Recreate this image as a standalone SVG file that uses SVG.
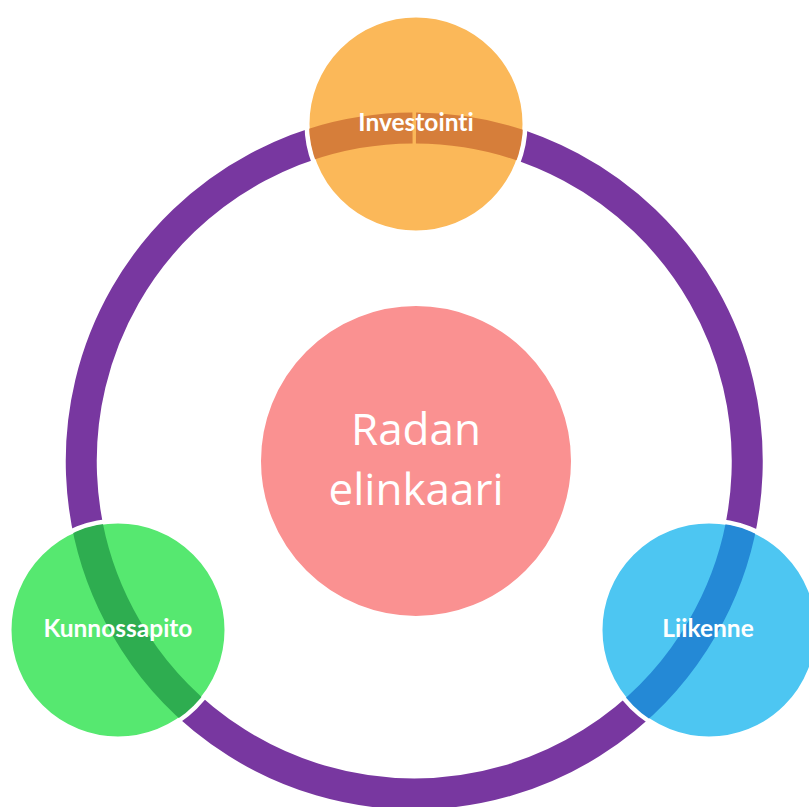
<svg xmlns="http://www.w3.org/2000/svg" width="809" height="807" viewBox="0 0 809 807">
  <style>
    .ring { fill: none; stroke-width: 31; }
    .node { stroke: #ffffff; stroke-width: 5; }
    .lbl { font-family: Lato, "Open Sans", "Liberation Sans", sans-serif; font-weight: bold; font-size: 24.5px; fill: #ffffff; text-anchor: middle; font-variant-ligatures: none; }
    .center-lbl { font-family: "Open Sans", "Liberation Sans", sans-serif; font-size: 44px; fill: #ffffff; text-anchor: middle; }
  </style>
  <defs>
    <path id="ringPath" d="M416,128 A333,333 0 1 1 412.5,128"/>
    <clipPath id="clipTop"><circle cx="416" cy="124" r="107"/></clipPath>
    <clipPath id="clipLeft"><circle cx="118" cy="630" r="107"/></clipPath>
    <clipPath id="clipRight"><circle cx="709" cy="630" r="107"/></clipPath>
  </defs>
  <rect width="809" height="807" fill="#ffffff"/>
  <g id="connectors">
    <use href="#ringPath" class="ring" stroke="#7837A0"/>
  </g>
  <g id="node-center">
    <circle cx="416" cy="461" r="156" fill="#FA9191" stroke="#ffffff" stroke-width="2"/>
    <text class="center-lbl" x="416" y="445">Radan</text>
    <text class="center-lbl" x="416" y="505">elinkaari</text>
  </g>
  <g id="node-investointi">
    <circle class="node" cx="416" cy="124" r="109" fill="#FBB859"/>
    <use href="#ringPath" class="ring" stroke="#D67E3A" clip-path="url(#clipTop)"/>
    <text class="lbl" x="416" y="131">Investointi</text>
  </g>
  <g id="node-kunnossapito">
    <circle class="node" cx="118" cy="630" r="109" fill="#56E870"/>
    <use href="#ringPath" class="ring" stroke="#2EAD50" clip-path="url(#clipLeft)"/>
    <text class="lbl" x="118" y="637">Kunnossapito</text>
  </g>
  <g id="node-liikenne">
    <circle class="node" cx="709" cy="630" r="109" fill="#4DC6F2"/>
    <use href="#ringPath" class="ring" stroke="#2489D6" clip-path="url(#clipRight)"/>
    <text class="lbl" x="708" y="637">Liikenne</text>
  </g>
</svg>
